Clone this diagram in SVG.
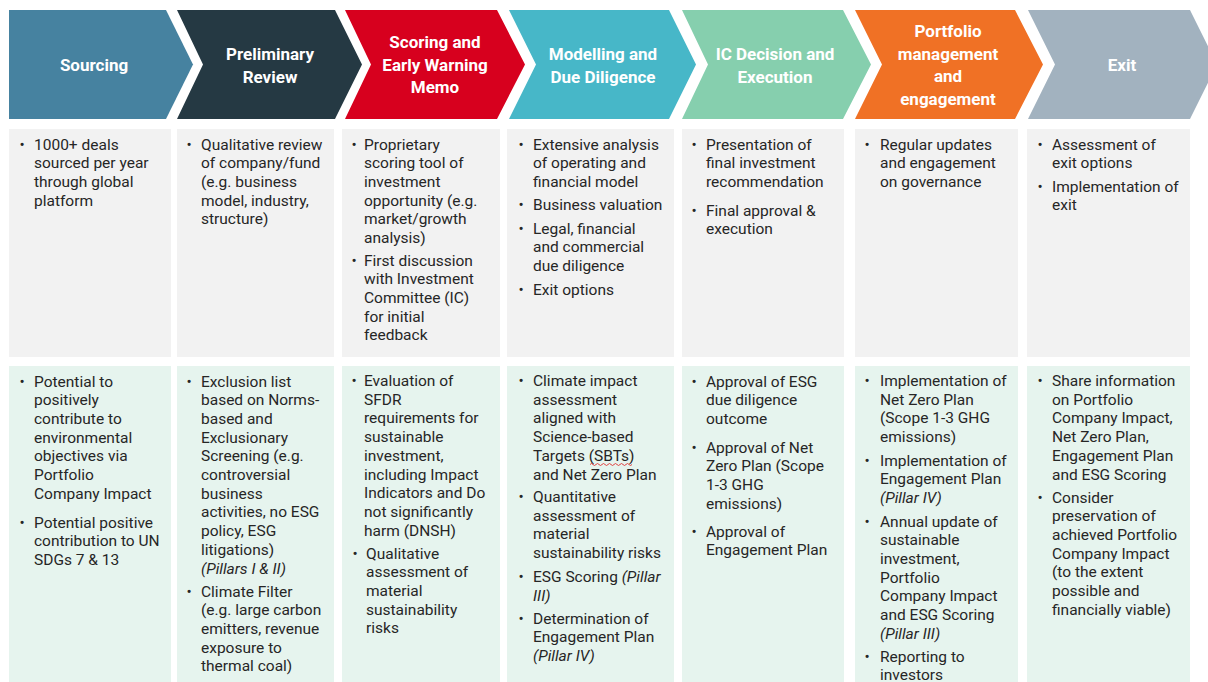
<svg xmlns="http://www.w3.org/2000/svg" width="1208" height="682" viewBox="0 0 1208 682">
<style>
.hd{font-family:Roboto,"Liberation Sans",sans-serif;font-weight:bold;font-size:17px;fill:#ffffff;text-anchor:middle}
.tx{font-family:Roboto,"Liberation Sans",sans-serif;font-size:15.5px;fill:#262626}
.bu{font-family:Roboto,"Liberation Sans",sans-serif;font-size:15.5px;fill:#262626;text-anchor:middle}
.it{font-style:italic}
.gray{fill:#f2f2f2}
.green{fill:#e6f4ee}
</style>
<rect width="1208" height="682" fill="#ffffff"/>
<g id="connectors"/>

<g id="stage-sourcing">
<path d="M9,10 L166,10 L193,64.5 L166,119 L9,119 Z" fill="#4682a0"/>
<text class="hd" x="94" y="71">Sourcing</text>
<rect class="gray" x="9" y="129" width="162" height="228"/>
<rect class="green" x="9" y="366" width="162" height="316"/>
<text class="bu" x="22" y="149.5">•</text>
<text class="tx" x="34" y="149.5">1000+ deals<tspan x="34" dy="18.7">sourced per year</tspan><tspan x="34" dy="18.7">through global</tspan><tspan x="34" dy="18.7">platform</tspan></text>
<text class="bu" x="22" y="386.5">•</text>
<text class="tx" x="34" y="386.5">Potential to<tspan x="34" dy="18.7">positively</tspan><tspan x="34" dy="18.7">contribute to</tspan><tspan x="34" dy="18.7">environmental</tspan><tspan x="34" dy="18.7">objectives via</tspan><tspan x="34" dy="18.7">Portfolio</tspan><tspan x="34" dy="18.7">Company Impact</tspan></text>
<text class="bu" x="22" y="527.5">•</text>
<text class="tx" x="34" y="527.5">Potential positive<tspan x="34" dy="18.7">contribution to UN</tspan><tspan x="34" dy="18.7">SDGs 7 &amp; 13</tspan></text>
</g>

<g id="stage-preliminary-review">
<path d="M177,10 L335,10 L362,64.5 L335,119 L177,119 L203,64.5 Z" fill="#253943"/>
<text class="hd" x="270" y="60">Preliminary<tspan x="270" dy="22.5">Review</tspan></text>
<rect class="gray" x="177" y="129" width="157" height="228"/>
<rect class="green" x="177" y="366" width="157" height="316"/>
<text class="bu" x="189" y="149.5">•</text>
<text class="tx" x="201" y="149.5">Qualitative review<tspan x="201" dy="18.7">of company/fund</tspan><tspan x="201" dy="18.7">(e.g. business</tspan><tspan x="201" dy="18.7">model, industry,</tspan><tspan x="201" dy="18.7">structure)</tspan></text>
<text class="bu" x="189" y="386.5">•</text>
<text class="tx" x="201" y="386.5">Exclusion list<tspan x="201" dy="18.7">based on Norms-</tspan><tspan x="201" dy="18.7">based and</tspan><tspan x="201" dy="18.7">Exclusionary</tspan><tspan x="201" dy="18.7">Screening (e.g.</tspan><tspan x="201" dy="18.7">controversial</tspan><tspan x="201" dy="18.7">business</tspan><tspan x="201" dy="18.7">activities, no ESG</tspan><tspan x="201" dy="18.7">policy, ESG</tspan><tspan x="201" dy="18.7">litigations)</tspan><tspan x="201" dy="18.7" class="it">(Pillars I &amp; II)</tspan></text>
<text class="bu" x="189" y="596.5">•</text>
<text class="tx" x="201" y="596.5">Climate Filter<tspan x="201" dy="18.7">(e.g. large carbon</tspan><tspan x="201" dy="18.7">emitters, revenue</tspan><tspan x="201" dy="18.7">exposure to</tspan><tspan x="201" dy="18.7">thermal coal)</tspan></text>
</g>

<g id="stage-scoring">
<path d="M345,10 L497,10 L525,64.5 L497,119 L345,119 L371,64.5 Z" fill="#d7001e"/>
<text class="hd" x="435" y="48">Scoring and<tspan x="435" dy="22.5">Early Warning</tspan><tspan x="435" dy="22.5">Memo</tspan></text>
<rect class="gray" x="342" y="129" width="158" height="228"/>
<rect class="green" x="342" y="366" width="158" height="316"/>
<text class="bu" x="354" y="149.5">•</text>
<text class="tx" x="364" y="149.5">Proprietary<tspan x="364" dy="18.7">scoring tool of</tspan><tspan x="364" dy="18.7">investment</tspan><tspan x="364" dy="18.7">opportunity (e.g.</tspan><tspan x="364" dy="18.7">market/growth</tspan><tspan x="364" dy="18.7">analysis)</tspan></text>
<text class="bu" x="354" y="265.5">•</text>
<text class="tx" x="364" y="265.5">First discussion<tspan x="364" dy="18.7">with Investment</tspan><tspan x="364" dy="18.7">Committee (IC)</tspan><tspan x="364" dy="18.7">for initial</tspan><tspan x="364" dy="18.7">feedback</tspan></text>
<text class="bu" x="354" y="386">•</text>
<text class="tx" x="364" y="386">Evaluation of<tspan x="364" dy="18.7">SFDR</tspan><tspan x="364" dy="18.7">requirements for</tspan><tspan x="364" dy="18.7">sustainable</tspan><tspan x="364" dy="18.7">investment,</tspan><tspan x="364" dy="18.7">including Impact</tspan><tspan x="364" dy="18.7">Indicators and Do</tspan><tspan x="364" dy="18.7">not significantly</tspan><tspan x="364" dy="18.7">harm (DNSH)</tspan></text>
<text class="bu" x="355" y="558.5">•</text>
<text class="tx" x="366" y="558.5">Qualitative<tspan x="366" dy="18.7">assessment of</tspan><tspan x="366" dy="18.7">material</tspan><tspan x="366" dy="18.7">sustainability</tspan><tspan x="366" dy="18.7">risks</tspan></text>
</g>

<g id="stage-modelling">
<path d="M509,10 L669,10 L696,64.5 L669,119 L509,119 L536,64.5 Z" fill="#47b7c8"/>
<text class="hd" x="603" y="60">Modelling and<tspan x="603" dy="22.5">Due Diligence</tspan></text>
<rect class="gray" x="507" y="129" width="167" height="228"/>
<rect class="green" x="507" y="366" width="167" height="316"/>
<text class="bu" x="521" y="149.5">•</text>
<text class="tx" x="533" y="149.5">Extensive analysis<tspan x="533" dy="18.7">of operating and</tspan><tspan x="533" dy="18.7">financial model</tspan></text>
<text class="bu" x="521" y="209.5">•</text>
<text class="tx" x="533" y="209.5">Business valuation</text>
<text class="bu" x="521" y="233.5">•</text>
<text class="tx" x="533" y="233.5">Legal, financial<tspan x="533" dy="18.7">and commercial</tspan><tspan x="533" dy="18.7">due diligence</tspan></text>
<text class="bu" x="521" y="294.5">•</text>
<text class="tx" x="533" y="294.5">Exit options</text>
<text class="bu" x="521" y="386">•</text>
<text class="tx" x="533" y="386">Climate impact<tspan x="533" dy="18.7">assessment</tspan><tspan x="533" dy="18.7">aligned with</tspan><tspan x="533" dy="18.7">Science-based</tspan><tspan x="533" dy="18.7">Targets (SBTs)</tspan><tspan x="533" dy="18.7">and Net Zero Plan</tspan></text>
<path d="M590,464.5 q1.5,-2 3,0 t3,0 t3,0 t3,0 t3,0 t3,0 t3,0 t3,0 t3,0 t3,0 t3,0 t3,0 t3,0 t3,0" fill="none" stroke="#e03030" stroke-width="0.9"/>
<text class="bu" x="521" y="502">•</text>
<text class="tx" x="533" y="502">Quantitative<tspan x="533" dy="18.7">assessment of</tspan><tspan x="533" dy="18.7">material</tspan><tspan x="533" dy="18.7">sustainability risks</tspan></text>
<text class="bu" x="521" y="582">•</text>
<text class="tx" x="533" y="582">ESG Scoring <tspan class="it">(Pillar</tspan><tspan x="533" dy="18.7" class="it">III)</tspan></text>
<text class="bu" x="521" y="623.5">•</text>
<text class="tx" x="533" y="623.5">Determination of<tspan x="533" dy="18.7">Engagement Plan</tspan><tspan x="533" dy="18.7" class="it">(Pillar IV)</tspan></text>
</g>

<g id="stage-ic-decision">
<path d="M682,10 L843,10 L871,64.5 L843,119 L682,119 L708,64.5 Z" fill="#86cfae"/>
<text class="hd" x="775" y="60">IC Decision and<tspan x="775" dy="22.5">Execution</tspan></text>
<rect class="gray" x="682" y="129" width="162" height="228"/>
<rect class="green" x="682" y="366" width="162" height="316"/>
<text class="bu" x="694" y="149.5">•</text>
<text class="tx" x="706" y="149.5">Presentation of<tspan x="706" dy="18.7">final investment</tspan><tspan x="706" dy="18.7">recommendation</tspan></text>
<text class="bu" x="694" y="215.5">•</text>
<text class="tx" x="706" y="215.5">Final approval &amp;<tspan x="706" dy="18.7">execution</tspan></text>
<text class="bu" x="694" y="386.5">•</text>
<text class="tx" x="706" y="386.5">Approval of ESG<tspan x="706" dy="18.7">due diligence</tspan><tspan x="706" dy="18.7">outcome</tspan></text>
<text class="bu" x="694" y="452.5">•</text>
<text class="tx" x="706" y="452.5">Approval of Net<tspan x="706" dy="18.7">Zero Plan (Scope</tspan><tspan x="706" dy="18.7">1-3 GHG</tspan><tspan x="706" dy="18.7">emissions)</tspan></text>
<text class="bu" x="694" y="536.5">•</text>
<text class="tx" x="706" y="536.5">Approval of<tspan x="706" dy="18.7">Engagement Plan</tspan></text>
</g>

<g id="stage-portfolio">
<path d="M855,10 L1015,10 L1043,64.5 L1015,119 L855,119 L882,64.5 Z" fill="#f07125"/>
<text class="hd" x="948" y="37">Portfolio<tspan x="948" dy="22.5">management</tspan><tspan x="948" dy="22.5">and</tspan><tspan x="948" dy="22.5">engagement</tspan></text>
<rect class="gray" x="855" y="129" width="163" height="228"/>
<rect class="green" x="855" y="366" width="163" height="316"/>
<text class="bu" x="867" y="149.5">•</text>
<text class="tx" x="880" y="149.5">Regular updates<tspan x="880" dy="18.7">and engagement</tspan><tspan x="880" dy="18.7">on governance</tspan></text>
<text class="bu" x="867" y="386">•</text>
<text class="tx" x="880" y="386">Implementation of<tspan x="880" dy="18.7">Net Zero Plan</tspan><tspan x="880" dy="18.7">(Scope 1-3 GHG</tspan><tspan x="880" dy="18.7">emissions)</tspan></text>
<text class="bu" x="867" y="465.5">•</text>
<text class="tx" x="880" y="465.5">Implementation of<tspan x="880" dy="18.7">Engagement Plan</tspan><tspan x="880" dy="18.7" class="it">(Pillar IV)</tspan></text>
<text class="bu" x="867" y="526.5">•</text>
<text class="tx" x="880" y="526.5">Annual update of<tspan x="880" dy="18.7">sustainable</tspan><tspan x="880" dy="18.7">investment,</tspan><tspan x="880" dy="18.7">Portfolio</tspan><tspan x="880" dy="18.7">Company Impact</tspan><tspan x="880" dy="18.7">and ESG Scoring</tspan><tspan x="880" dy="18.7" class="it">(Pillar III)</tspan></text>
<text class="bu" x="867" y="661.5">•</text>
<text class="tx" x="880" y="661.5">Reporting to<tspan x="880" dy="18.7">investors</tspan></text>
</g>

<g id="stage-exit">
<path d="M1028,10 L1190,10 L1217,64.5 L1190,119 L1028,119 L1055,64.5 Z" fill="#a2b2bf"/>
<text class="hd" x="1122" y="71">Exit</text>
<rect class="gray" x="1027" y="129" width="163" height="228"/>
<rect class="green" x="1027" y="366" width="163" height="316"/>
<text class="bu" x="1040" y="149.5">•</text>
<text class="tx" x="1052" y="149.5">Assessment of<tspan x="1052" dy="18.7">exit options</tspan></text>
<text class="bu" x="1040" y="191.5">•</text>
<text class="tx" x="1052" y="191.5">Implementation of<tspan x="1052" dy="18.7">exit</tspan></text>
<text class="bu" x="1040" y="386">•</text>
<text class="tx" x="1052" y="386">Share information<tspan x="1052" dy="18.7">on Portfolio</tspan><tspan x="1052" dy="18.7">Company Impact,</tspan><tspan x="1052" dy="18.7">Net Zero Plan,</tspan><tspan x="1052" dy="18.7">Engagement Plan</tspan><tspan x="1052" dy="18.7">and ESG Scoring</tspan></text>
<text class="bu" x="1040" y="502.5">•</text>
<text class="tx" x="1052" y="502.5">Consider<tspan x="1052" dy="18.7">preservation of</tspan><tspan x="1052" dy="18.7">achieved Portfolio</tspan><tspan x="1052" dy="18.7">Company Impact</tspan><tspan x="1052" dy="18.7">(to the extent</tspan><tspan x="1052" dy="18.7">possible and</tspan><tspan x="1052" dy="18.7">financially viable)</tspan></text>
</g>
</svg>
